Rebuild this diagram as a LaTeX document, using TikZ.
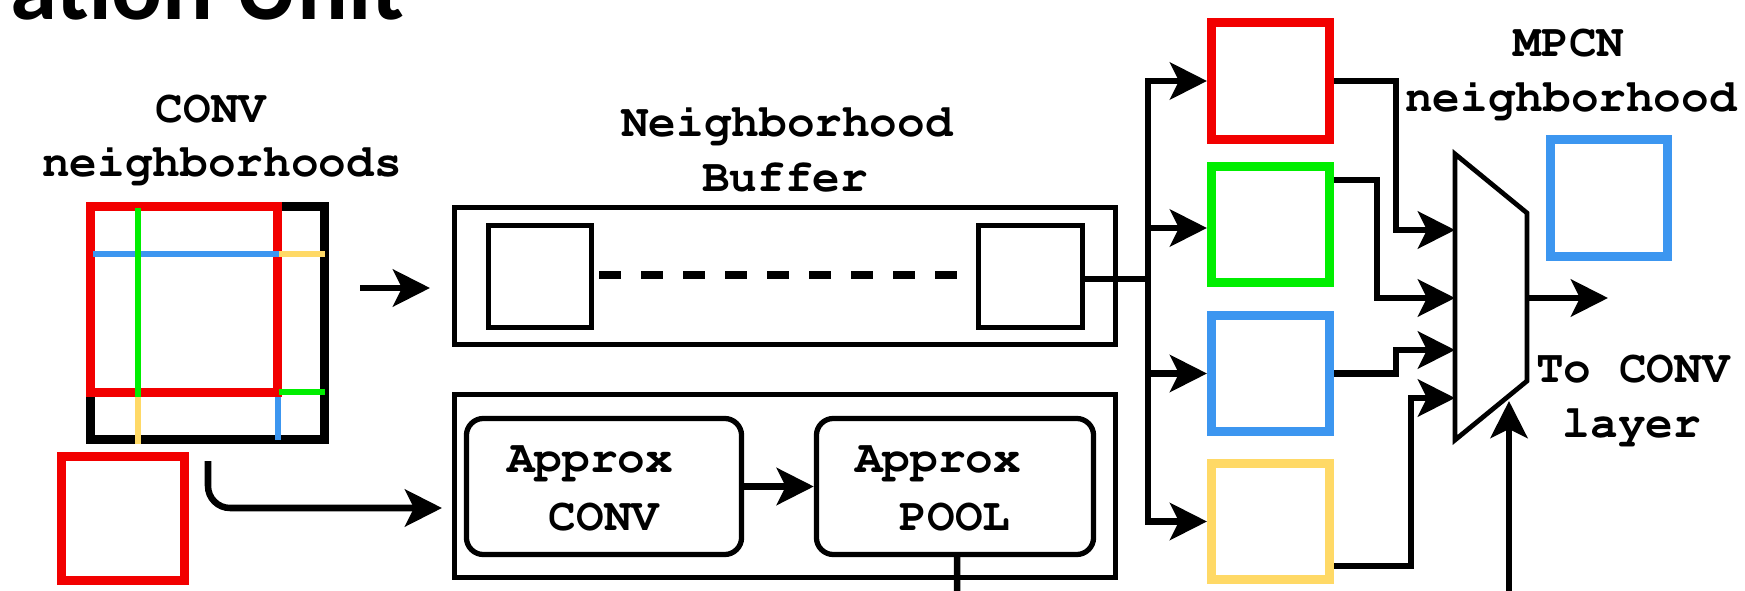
\documentclass[tikz,border=0pt]{standalone}
\usepackage[T1]{fontenc}
\usepackage{fontspec}
\newfontfamily\titlefont{Carlito}
\newcommand\courbf{\fontencoding{T1}\fontfamily{pcr}\fontseries{b}\fontshape{n}\fontsize{13.1pt}{15pt}\selectfont}
\usetikzlibrary{arrows.meta}
\definecolor{cred}{HTML}{F20000}
\definecolor{cgreen}{HTML}{00EE00}
\definecolor{cblue}{HTML}{3C96F0}
\definecolor{cyellow}{HTML}{FFD966}
\begin{document}
\begin{tikzpicture}[x=0.01cm,y=-0.01cm,
  lbl/.style={font=\courbf, inner sep=0pt, anchor=base},
  thickbox/.style={draw=#1, line width=2.56pt, inner sep=0pt, fill=none},
  thinbox/.style={draw, line width=1.5pt, inner sep=0pt},
  conn/.style={line width=1.85pt},
  arr/.style={conn, -{Stealth[length=0.37cm,width=0.37cm,inset=0.09cm]}},
  gridline/.style={line width=1.8pt}
]
\useasboundingbox (0,0) rectangle (1745,591);
\clip (0,0) rectangle (1745,591);
\fill[white] (0,0) rectangle (1745,591);

% title (cut off at top)
\node[font=\titlefont\bfseries\fontsize{27pt}{30pt}\selectfont, anchor=base east, inner sep=0pt] (title) at (405,20) {ation Unit};

% ---------- left: CONV neighborhoods ----------
\node[lbl] (convA) at (211,123) {CONV};
\node[lbl] (convB) at (222,177) {neighborhoods};
\node[thickbox=black, minimum width=2.34cm, minimum height=2.33cm] (blk) at (207.5,323) {};
\node[thickbox=cred, minimum width=1.87cm, minimum height=1.86cm] (redbig) at (184,299.5) {};
\draw[gridline, cblue] (93,254) -- (279,254);
\draw[gridline, cyellow] (279,254) -- (325,254);
\draw[gridline, cgreen] (138,208) -- (138,397);
\draw[gridline, cgreen] (279,392) -- (325,392);
\draw[gridline, cblue] (278,397) -- (278,440);
\draw[gridline, cyellow] (138,397) -- (138,444);
\node[thickbox=cred, minimum width=1.22cm, minimum height=1.23cm] (redsm) at (123,518.5) {};

\coordinate (a1s) at (360,288);
\coordinate (a1e) at (430,288);
\draw[arr] (a1s) -- (a1e);
\coordinate (c1) at (208,461);
\coordinate (c2) at (442,508);
\draw[arr, rounded corners=0.22cm] (c1) |- (c2);

% ---------- middle: Neighborhood Buffer ----------
\node[lbl] (nbA) at (787,137) {Neighborhood};
\node[lbl] (nbB) at (785,192) {Buffer};
\node[thinbox, minimum width=6.61cm, minimum height=1.37cm] (buf) at (785,276) {};
\node[thinbox, minimum width=1.03cm, minimum height=1.02cm] (bufL) at (540,276.5) {};
\node[thinbox, minimum width=1.04cm, minimum height=1.02cm] (bufR) at (1030.5,276.5) {};
\draw[line width=2.4pt, dash pattern=on 0.22cm off 0.20cm] ([xshift=0.05cm,yshift=0.015cm]bufL.east) -- ([xshift=-0.19cm,yshift=0.015cm]bufR.west);

% ---------- middle: Approx units ----------
\node[thinbox, minimum width=6.61cm, minimum height=1.83cm] (apx) at (785,486) {};
\node[thinbox, rounded corners=0.17cm, minimum width=2.75cm, minimum height=1.36cm] (aconv) at (604,486.5) {};
\node[thinbox, rounded corners=0.17cm, minimum width=2.77cm, minimum height=1.36cm] (apool) at (955,486.5) {};
\node[lbl] (acA) at (590,472) {Approx};
\node[lbl] (acB) at (604,530) {CONV};
\node[lbl] (apA) at (938,472) {Approx};
\node[lbl] (apB) at (955,530) {POOL};
\draw[arr] (aconv.east) -- (apool.west);
\coordinate (poolout) at (957,600);
\draw[conn] ([xshift=0.02cm]apool.south) -- (poolout);

% ---------- right: distribution ----------
\node[thickbox=cred,    minimum width=1.18cm, minimum height=1.17cm] (cR) at (1270.5,81) {};
\node[thickbox=cgreen,  minimum width=1.18cm, minimum height=1.16cm] (cG) at (1270.5,224.5) {};
\node[thickbox=cblue,   minimum width=1.18cm, minimum height=1.16cm] (cB) at (1270.5,373.5) {};
\node[thickbox=cyellow, minimum width=1.18cm, minimum height=1.16cm] (cY) at (1270.5,521.5) {};

\coordinate (bx) at (1148,279);
\draw[conn] ([yshift=-0.025cm]bufR.east) -- ([yshift=-0.025cm]bufR.east -| bx);
\draw[arr] (cY.west -| bx) |- (cR.west);
\draw[arr] (cR.west -| bx) |- (cY.west);
\draw[arr] ([yshift=-0.035cm]cG.west -| bx) -- ([yshift=-0.035cm]cG.west);
\draw[arr] (cB.west -| bx) -- (cB.west);

% mux
\coordinate (muxTL) at (1455,154);
\coordinate (muxTR) at (1527,213);
\coordinate (muxBR) at (1527,381);
\coordinate (muxBL) at (1455,440);
\draw[line width=1.35pt, line join=miter] (muxTL) -- (muxTR) -- (muxBR) -- (muxBL) -- cycle;
\coordinate (m1) at (1455,230);
\coordinate (m2) at (1455,298);
\coordinate (m3) at (1455,350);
\coordinate (m4) at (1455,398);
\draw[arr] (cR.east) -- ++(62,0) |- (m1);
\draw[arr] ([yshift=0.445cm]cG.east) -- ++(43,0) |- (m2);
\draw[arr] (cB.east) -- ++(62,0) |- (m3);
\draw[arr] ([yshift=-0.445cm]cY.east) -- ++(77,0) |- (m4);

\coordinate (mout) at (1527,298);
\coordinate (moutE) at (1608,298);
\draw[arr] (mout) -- (moutE);
\coordinate (sel) at (1509,401);
\coordinate (selS) at (1509,600);
\draw[arr] (selS) -- (sel);

\node[lbl] (mpA) at (1569,57) {MPCN};
\node[lbl] (mpB) at (1571,112) {neighborhood};
\node[thickbox=cblue, minimum width=1.17cm, minimum height=1.17cm] (mpsq) at (1609,198) {};
\node[lbl] (toA) at (1633,382) {To CONV};
\node[lbl] (toB) at (1632,437) {layer};
\end{tikzpicture}
\end{document}
